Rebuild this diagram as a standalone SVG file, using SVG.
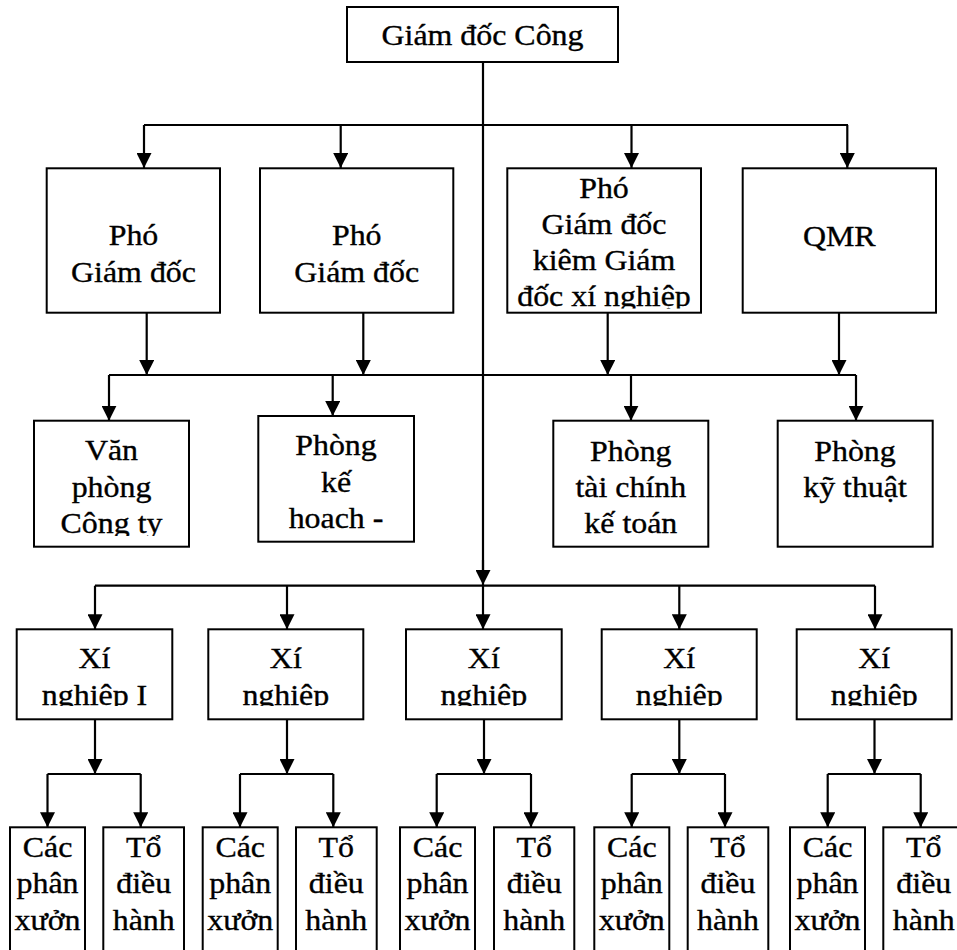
<svg xmlns="http://www.w3.org/2000/svg" width="957" height="950" viewBox="0 0 957 950">
<style>
.box{fill:#fff;stroke:#000;stroke-width:2}
.ln{fill:none;stroke:#000;stroke-width:2.2}
.ar{fill:none;stroke:#000;stroke-width:2.2;marker-end:url(#ah)}
text{font-family:"Liberation Serif","Times New Roman",serif;font-size:29px;text-anchor:middle;fill:#000;stroke:#000;stroke-width:0.35}
</style>
<defs>
<marker id="ah" markerUnits="userSpaceOnUse" markerWidth="15" markerHeight="15" refX="15" refY="7.5" orient="auto" viewBox="0 0 15 15">
<path d="M0,0 L15,7.5 L0,15 z" fill="#000"/>
</marker>
<clipPath id="c1"><rect x="34" y="420" width="156" height="116"/></clipPath>
<clipPath id="c2"><rect x="258" y="416" width="156" height="114"/></clipPath>
<clipPath id="c3"><rect x="507" y="168" width="194" height="140.5"/></clipPath>
<clipPath id="c4"><rect x="0" y="629" width="957" height="77"/></clipPath>
</defs>
<rect width="957" height="950" fill="#fff"/>
<g id="connectors">
<path class="ln" d="M483 62 V570"/>
<path class="ar" d="M483 560 V585"/>
<path class="ln" d="M144 125 H848"/>
<path class="ar" d="M144 125 V168"/>
<path class="ar" d="M340.7 125 V168"/>
<path class="ar" d="M631.5 125 V168"/>
<path class="ar" d="M847.3 125 V168"/>
<path class="ar" d="M146.7 312.7 V375"/>
<path class="ar" d="M363.3 312.7 V375"/>
<path class="ar" d="M607.7 312.7 V375"/>
<path class="ar" d="M839 312.7 V375"/>
<path class="ln" d="M109 375 H856"/>
<path class="ar" d="M109 375 V420.7"/>
<path class="ar" d="M332.7 375 V416"/>
<path class="ar" d="M631 375 V420.7"/>
<path class="ar" d="M856 375 V420.7"/>
<path class="ln" d="M95 585.7 H875"/>
<path class="ar" d="M95 585.7 V629.3"/>
<path class="ar" d="M287 585.7 V629.3"/>
<path class="ar" d="M483 585.7 V629.3"/>
<path class="ar" d="M679.3 585.7 V629.3"/>
<path class="ar" d="M875 585.7 V629.3"/>
<path class="ar" d="M95 719.3 V774"/>
<path class="ar" d="M287 719.3 V774"/>
<path class="ar" d="M484 719.3 V774"/>
<path class="ar" d="M679.3 719.3 V774"/>
<path class="ar" d="M874.5 719.3 V774"/>
<path class="ln" d="M47.5 774 H140.7"/>
<path class="ar" d="M47.5 774 V827.3"/>
<path class="ar" d="M140.7 774 V827.3"/>
<path class="ln" d="M240 774 H333.3"/>
<path class="ar" d="M240 774 V827.3"/>
<path class="ar" d="M333.3 774 V827.3"/>
<path class="ln" d="M436.7 774 H531"/>
<path class="ar" d="M436.7 774 V827.3"/>
<path class="ar" d="M531 774 V827.3"/>
<path class="ln" d="M631.7 774 H725"/>
<path class="ar" d="M631.7 774 V827.3"/>
<path class="ar" d="M725 774 V827.3"/>
<path class="ln" d="M827.7 774 H920.7"/>
<path class="ar" d="M827.7 774 V827.3"/>
<path class="ar" d="M920.7 774 V827.3"/>
</g>
<g id="giam-doc">
<rect class="box" x="347" y="7" width="271" height="55"/>
<text transform="translate(482.5 45) scale(1.1 1)">Giám đốc Công</text>
</g>
<g id="pho-gd-1">
<rect class="box" x="46.7" y="168.3" width="173.3" height="144.4"/>
<text transform="translate(133.5 245) scale(1.1 1)"><tspan x="0" y="0">Phó</tspan><tspan x="0" y="36.7">Giám đốc</tspan></text>
</g>
<g id="pho-gd-2">
<rect class="box" x="260" y="168.3" width="193.3" height="144.4"/>
<text transform="translate(356.7 245) scale(1.1 1)"><tspan x="0" y="0">Phó</tspan><tspan x="0" y="36.7">Giám đốc</tspan></text>
</g>
<g id="pho-gd-3">
<rect class="box" x="507.3" y="168.3" width="193.7" height="144.4"/>
<g clip-path="url(#c3)">
<text transform="translate(604 198.3) scale(1.1 1)"><tspan x="0" y="0">Phó</tspan><tspan x="0" y="35.5">Giám đốc</tspan><tspan x="0" y="71.5">kiêm Giám</tspan><tspan x="0" y="108">đốc xí nghiệp</tspan></text>
</g>
</g>
<g id="qmr">
<rect class="box" x="742.7" y="168.3" width="193.3" height="144.4"/>
<text transform="translate(839.3 246) scale(1.1 1)">QMR</text>
</g>
<g id="van-phong">
<rect class="box" x="34" y="420.7" width="155" height="126"/>
<g clip-path="url(#c1)">
<text transform="translate(111.5 460) scale(1.1 1)"><tspan x="0" y="0">Văn</tspan><tspan x="0" y="36.7">phòng</tspan><tspan x="0" y="73">Công ty</tspan></text>
</g>
</g>
<g id="phong-ke-hoach">
<rect class="box" x="258.3" y="416" width="155.7" height="125.7"/>
<g clip-path="url(#c2)">
<text transform="translate(336 455) scale(1.1 1)"><tspan x="0" y="0">Phòng</tspan><tspan x="0" y="36.7">kế</tspan><tspan x="0" y="73.3">hoạch -</tspan></text>
</g>
</g>
<g id="phong-tai-chinh">
<rect class="box" x="553.3" y="420.7" width="155" height="126"/>
<text transform="translate(630.8 460.7) scale(1.1 1)"><tspan x="0" y="0">Phòng</tspan><tspan x="0" y="36.6">tài chính</tspan><tspan x="0" y="72">kế toán</tspan></text>
</g>
<g id="phong-ky-thuat">
<rect class="box" x="777.7" y="420.7" width="155" height="126"/>
<text transform="translate(855 460.7) scale(1.1 1)"><tspan x="0" y="0">Phòng</tspan><tspan x="0" y="36.6">kỹ thuật</tspan></text>
</g>
<g id="xi-nghiep-1">
<rect class="box" x="16.7" y="629.3" width="155.6" height="90"/>
<g clip-path="url(#c4)"><text transform="translate(94.5 668.3) scale(1.1 1)"><tspan x="0" y="0">Xí</tspan><tspan x="0" y="36.7">nghiệp I</tspan></text></g>
</g>
<g id="xi-nghiep-2">
<rect class="box" x="208.3" y="629.3" width="155" height="90"/>
<g clip-path="url(#c4)"><text transform="translate(285.8 668.3) scale(1.1 1)"><tspan x="0" y="0">Xí</tspan><tspan x="0" y="36.7">nghiệp</tspan></text></g>
</g>
<g id="xi-nghiep-3">
<rect class="box" x="406" y="629.3" width="155.7" height="90"/>
<g clip-path="url(#c4)"><text transform="translate(483.8 668.3) scale(1.1 1)"><tspan x="0" y="0">Xí</tspan><tspan x="0" y="36.7">nghiệp</tspan></text></g>
</g>
<g id="xi-nghiep-4">
<rect class="box" x="601.7" y="629.3" width="155" height="90"/>
<g clip-path="url(#c4)"><text transform="translate(679.2 668.3) scale(1.1 1)"><tspan x="0" y="0">Xí</tspan><tspan x="0" y="36.7">nghiệp</tspan></text></g>
</g>
<g id="xi-nghiep-5">
<rect class="box" x="796.7" y="629.3" width="155" height="90"/>
<g clip-path="url(#c4)"><text transform="translate(874.2 668.3) scale(1.1 1)"><tspan x="0" y="0">Xí</tspan><tspan x="0" y="36.7">nghiệp</tspan></text></g>
</g>
<g id="phan-xuong-1">
<rect class="box" x="10" y="827.3" width="75" height="140"/>
<text transform="translate(47.5 856.7) scale(1.1 1)"><tspan x="0" y="0">Các</tspan><tspan x="0" y="36.6">phân</tspan><tspan x="0" y="73.3">xưởn</tspan></text>
</g>
<g id="to-dieu-hanh-1">
<rect class="box" x="103.3" y="827.3" width="80.7" height="140"/>
<text transform="translate(143.7 856.7) scale(1.1 1)"><tspan x="0" y="0">Tổ</tspan><tspan x="0" y="36.6">điều</tspan><tspan x="0" y="73.3">hành</tspan></text>
</g>
<g id="phan-xuong-2">
<rect class="box" x="202.7" y="827.3" width="75" height="140"/>
<text transform="translate(240.2 856.7) scale(1.1 1)"><tspan x="0" y="0">Các</tspan><tspan x="0" y="36.6">phân</tspan><tspan x="0" y="73.3">xưởn</tspan></text>
</g>
<g id="to-dieu-hanh-2">
<rect class="box" x="296" y="827.3" width="80.7" height="140"/>
<text transform="translate(336.3 856.7) scale(1.1 1)"><tspan x="0" y="0">Tổ</tspan><tspan x="0" y="36.6">điều</tspan><tspan x="0" y="73.3">hành</tspan></text>
</g>
<g id="phan-xuong-3">
<rect class="box" x="400" y="827.3" width="75" height="140"/>
<text transform="translate(437.5 856.7) scale(1.1 1)"><tspan x="0" y="0">Các</tspan><tspan x="0" y="36.6">phân</tspan><tspan x="0" y="73.3">xưởn</tspan></text>
</g>
<g id="to-dieu-hanh-3">
<rect class="box" x="494" y="827.3" width="80.3" height="140"/>
<text transform="translate(534.2 856.7) scale(1.1 1)"><tspan x="0" y="0">Tổ</tspan><tspan x="0" y="36.6">điều</tspan><tspan x="0" y="73.3">hành</tspan></text>
</g>
<g id="phan-xuong-4">
<rect class="box" x="594.3" y="827.3" width="75" height="140"/>
<text transform="translate(631.8 856.7) scale(1.1 1)"><tspan x="0" y="0">Các</tspan><tspan x="0" y="36.6">phân</tspan><tspan x="0" y="73.3">xưởn</tspan></text>
</g>
<g id="to-dieu-hanh-4">
<rect class="box" x="687.7" y="827.3" width="80.6" height="140"/>
<text transform="translate(728 856.7) scale(1.1 1)"><tspan x="0" y="0">Tổ</tspan><tspan x="0" y="36.6">điều</tspan><tspan x="0" y="73.3">hành</tspan></text>
</g>
<g id="phan-xuong-5">
<rect class="box" x="790" y="827.3" width="75" height="140"/>
<text transform="translate(827.5 856.7) scale(1.1 1)"><tspan x="0" y="0">Các</tspan><tspan x="0" y="36.6">phân</tspan><tspan x="0" y="73.3">xưởn</tspan></text>
</g>
<g id="to-dieu-hanh-5">
<rect class="box" x="883.3" y="827.3" width="81" height="140"/>
<text transform="translate(923.8 856.7) scale(1.1 1)"><tspan x="0" y="0">Tổ</tspan><tspan x="0" y="36.6">điều</tspan><tspan x="0" y="73.3">hành</tspan></text>
</g>
</svg>
